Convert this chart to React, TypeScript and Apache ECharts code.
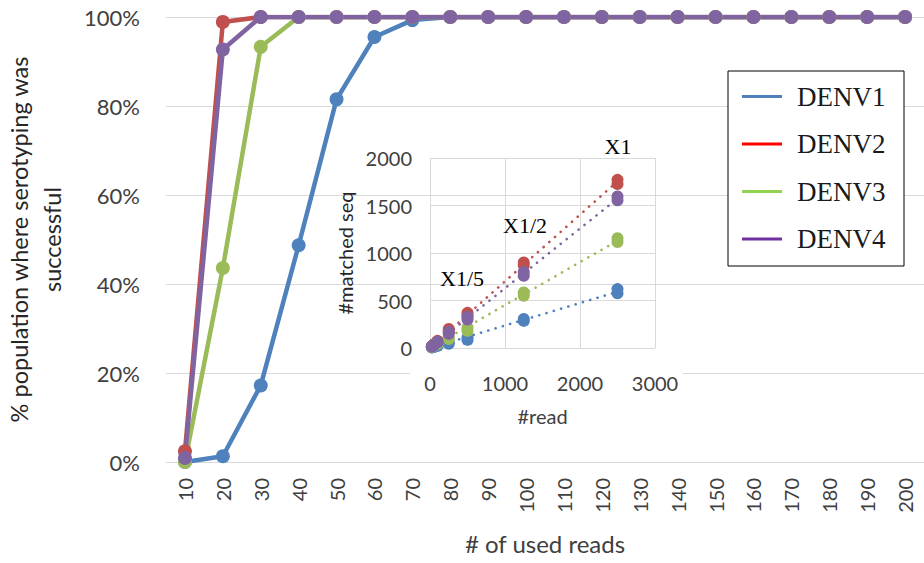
import React, { useEffect, useRef } from "react";
import * as echarts from "echarts";

const categories = ["10","20","30","40","50","60","70","80","90","100","110","120","130","140","150","160","170","180","190","200"];
const denv1 = [0, 0.013, 0.172, 0.487, 0.815, 0.955, 0.993, 1, 1, 1, 1, 1, 1, 1, 1, 1, 1, 1, 1, 1];
const denv2 = [0.024, 0.989, 1, 1, 1, 1, 1, 1, 1, 1, 1, 1, 1, 1, 1, 1, 1, 1, 1, 1];
const denv3 = [0, 0.436, 0.933, 1, 1, 1, 1, 1, 1, 1, 1, 1, 1, 1, 1, 1, 1, 1, 1, 1];
const denv4 = [0.009, 0.927, 1, 1, 1, 1, 1, 1, 1, 1, 1, 1, 1, 1, 1, 1, 1, 1, 1, 1];

const yTicks = [0, 0.2, 0.4, 0.6, 0.8, 1];

// inset: #read vs #matched seq (two replicates per read count)
const insetReads = [25, 50, 100, 250, 500, 1250, 2500];
const d1RepA = [5, 11, 22, 45, 85, 285, 575];
const d1RepB = [7, 13, 27, 60, 110, 305, 620];
const d2RepA = [16, 34, 68, 175, 345, 870, 1725];
const d2RepB = [19, 38, 75, 200, 370, 900, 1770];
const d3RepA = [10, 20, 42, 95, 180, 550, 1115];
const d3RepB = [12, 24, 48, 110, 215, 585, 1155];
const d4RepA = [14, 30, 60, 150, 300, 760, 1555];
const d4RepB = [17, 33, 66, 170, 330, 800, 1595];

const seriesColors = ["#4F81BD", "#C0504D", "#9BBB59", "#8064A2"];
const legendColors = ["#4F81BD", "#FF0000", "#92D050", "#7030A0"];
const names = ["DENV1", "DENV2", "DENV3", "DENV4"];
const scaleLabels = ["X1", "X1/2", "X1/5"];

const SANS = "Lato, 'Open Sans', sans-serif";
const SERIF = "'Liberation Serif', 'DejaVu Serif', serif";

function pairs(a: number[], b: number[]) {
  const out: number[][] = [];
  insetReads.forEach((r, i) => {
    out.push([r, a[i]]);
    out.push([r, b[i]]);
  });
  return out;
}

function trend(pts: number[][]) {
  let sxy = 0, sxx = 0;
  pts.forEach(([x, y]) => { sxy += x * y; sxx += x * x; });
  const k = sxy / sxx;
  const xmax = insetReads[insetReads.length - 1];
  return [[0, 0], [xmax, k * xmax]];
}

export default function App() {
  const ref = useRef<HTMLDivElement>(null);
  useEffect(() => {
    if (!ref.current) return;
    const chart = echarts.init(ref.current, undefined, { renderer: "svg" });
    const mainData = [denv1, denv2, denv3, denv4];
    const insetData = [pairs(d1RepA, d1RepB), pairs(d2RepA, d2RepB), pairs(d3RepA, d3RepB), pairs(d4RepA, d4RepB)];

    const series: any[] = [];
    mainData.forEach((d, i) => {
      series.push({
        name: names[i], type: "line", xAxisIndex: 0, yAxisIndex: 0, data: d,
        symbol: "circle", symbolSize: 14, lineStyle: { width: 4.5, color: seriesColors[i] },
        itemStyle: { color: seriesColors[i] }, z: 2,
      });
    });
    insetData.forEach((d, i) => {
      series.push({
        name: "trend" + (i + 1), type: "line", xAxisIndex: 1, yAxisIndex: 1, data: trend(d),
        symbol: "none", lineStyle: { width: 2.6, type: [0.1, 7.5], cap: "round", color: seriesColors[i] }, z: 6,
      });
    });
    insetData.forEach((d, i) => {
      series.push({
        name: "inset" + (i + 1), type: "scatter", xAxisIndex: 1, yAxisIndex: 1, data: d,
        symbol: "circle", symbolSize: 12, itemStyle: { color: seriesColors[i], opacity: 1 }, z: 7,
      });
    });

    chart.setOption({
      animation: false,
      backgroundColor: "#ffffff",
      grid: [
        { left: 166, right: 0, top: 17, bottom: 101, outerBoundsMode: "none", containLabel: false },
        { left: 430, top: 158, width: 225, height: 190, outerBoundsMode: "none", containLabel: false },
      ],
      xAxis: [
        {
          type: "category", gridIndex: 0, data: categories, boundaryGap: true,
          axisTick: { show: false },
          axisLine: { show: true, lineStyle: { color: "#d9d9d9", width: 1 } },
          axisLabel: { rotate: 90, margin: 16, fontSize: 20, color: "#404040", fontFamily: SANS },
          name: "# of used reads", nameLocation: "middle", nameGap: 69,
          nameTextStyle: { fontSize: 24, color: "#404040", fontFamily: SANS },
        },
        {
          type: "value", gridIndex: 1, min: 0, max: 3000, interval: 1000, z: 4,
          axisLine: { show: false }, axisTick: { show: false },
          splitLine: { show: true, lineStyle: { color: "#d9d9d9", width: 1 } },
          axisLabel: { margin: 25, fontSize: 20, color: "#404040", fontFamily: SANS, formatter: (v: number) => String(v) },
          name: "#read", nameLocation: "middle", nameGap: 58,
          nameTextStyle: { fontSize: 20, color: "#404040", fontFamily: SANS },
        },
      ],
      yAxis: [
        {
          type: "value", gridIndex: 0, min: 0, max: 1, interval: 0.2,
          axisLine: { show: false }, axisTick: { show: false },
          splitLine: { show: true, lineStyle: { color: "#d9d9d9", width: 1 } },
          axisLabel: {
            margin: 26, fontSize: 22, color: "#404040", fontFamily: SANS,
            formatter: (v: number) => {
              const t = yTicks.find((x) => Math.abs(x - v) < 1e-6);
              return Math.round((t ?? v) * 100) + "%";
            },
          },
          name: "% population where serotyping was\nsuccessful", nameLocation: "middle", nameRotate: 90, nameGap: 98,
          nameTextStyle: { fontSize: 23.5, lineHeight: 33, color: "#262626", fontFamily: SANS },
        },
        {
          type: "value", gridIndex: 1, min: 0, max: 2000, interval: 500, z: 4,
          axisLine: { show: false }, axisTick: { show: false },
          splitLine: { show: true, lineStyle: { color: "#d9d9d9", width: 1 } },
          axisLabel: { margin: 18, fontSize: 20, color: "#404040", fontFamily: SANS, formatter: (v: number) => String(v) },
          name: "#matched seq", nameLocation: "middle", nameRotate: 90, nameGap: 75,
          nameTextStyle: { fontSize: 20, color: "#262626", fontFamily: SANS },
        },
      ],
      legend: {
        show: true, orient: "vertical", left: 742, top: 83, padding: 0,
        icon: "rect", itemWidth: 40, itemHeight: 3, itemGap: 20.5, z: 10,
        textStyle: { fontSize: 27, lineHeight: 27, color: "#1a1a1a", fontFamily: SERIF, padding: [0, 0, 0, 10] },
        data: names.map((n, i) => ({ name: n, itemStyle: { color: legendColors[i] } })),
      },
      graphic: [
        { type: "rect", z: 1, shape: { x: 410, y: 365, width: 273, height: 30 }, style: { fill: "#ffffff" } },
        { type: "rect", z: 8, shape: { x: 728, y: 71, width: 176, height: 195 }, style: { fill: "#ffffff", stroke: "#000000", lineWidth: 1 } },
        { type: "text", z: 9, x: 618, y: 146, style: { text: scaleLabels[0], fontSize: 22, fontFamily: SERIF, fill: "#000", align: "center", verticalAlign: "middle" } },
        { type: "text", z: 9, x: 525, y: 225, style: { text: scaleLabels[1], fontSize: 22, fontFamily: SERIF, fill: "#000", align: "center", verticalAlign: "middle" } },
        { type: "text", z: 9, x: 462, y: 278, style: { text: scaleLabels[2], fontSize: 22, fontFamily: SERIF, fill: "#000", align: "center", verticalAlign: "middle" } },
      ],
      series,
    });
    return () => chart.dispose();
  }, []);
  return <div ref={ref} style={{ width: 924, height: 563, position: "absolute", left: 0, top: 0 }} />;
}
